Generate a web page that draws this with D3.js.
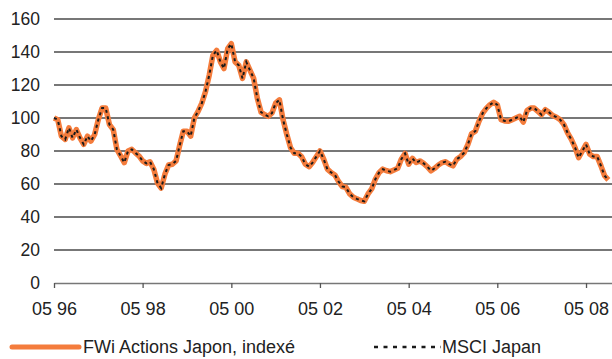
<!DOCTYPE html>
<html>
<head>
<meta charset="utf-8">
<script src="https://cdn.jsdelivr.net/npm/d3@7"></script>
<style>
  html, body { margin: 0; padding: 0; background: #fff; }
  svg { display: block; font-family: "Liberation Sans", Arial, sans-serif; }
</style>
</head>
<body>
<svg id="chart" width="612" height="359"></svg>
<script>
// Monthly index levels, May 1996 = 100
const startMonth = new Date(1996, 4, 1);
const fwiJapon = [
  100, 99, 89, 87, 94, 88, 93, 88, 84, 89, 86, 90, 99, 106, 106, 96, 93, 81, 77, 73,
  80, 81, 79, 77, 74, 72.5, 73.5, 69, 60.5, 57.5, 66, 71.5, 72, 74, 83, 92, 92, 89, 100, 104,
  109, 116, 126, 138, 141, 134, 130, 142, 145, 134, 132, 124, 134, 129, 124, 112, 103.5, 102, 101, 103,
  109, 111, 99, 90, 82, 78.6, 78.6, 76.5, 72, 70.5, 73, 76.6, 80, 75, 69, 67, 65.5, 61.5, 58.5, 58,
  54, 52, 51, 50, 49.5, 54, 57, 63, 67, 69, 68, 67.5, 68.5, 69.5, 75, 78.5, 72, 75.5, 73, 74,
  72.5, 70.5, 68, 69.5, 71.5, 73, 73.5, 72, 71, 75, 76.6, 79, 84, 90.5, 92, 98, 103, 106, 108, 109.5,
  108, 99, 98.2, 98, 99, 100, 101, 97.5, 104.5, 106, 106, 104, 102, 105, 103.5, 101.5, 100.5, 99, 96, 91,
  87, 82, 76, 80, 84, 78, 76.6, 76.6, 71, 65, 62.5
];
const msciJapan = [
  100, 99, 89, 87, 94, 88, 93, 88, 84, 89, 86, 90, 99, 106, 106, 96, 93, 81, 77, 73,
  80, 81, 79, 77, 74, 72.5, 73.5, 69, 60.5, 57.5, 66, 71.5, 72, 74, 83, 92, 92, 89, 100, 104,
  109, 116, 126, 138, 141, 134, 130, 142, 145, 134, 132, 124, 134, 129, 124, 112, 103.5, 102, 101, 103,
  109, 111, 99, 90, 82, 78.6, 78.6, 76.5, 72, 70.5, 73, 76.6, 80, 75, 69, 67, 65.5, 61.5, 58.5, 58,
  54, 52, 51, 50, 49.5, 54, 57, 63, 67, 69, 68, 67.5, 68.5, 69.5, 75, 78.5, 72, 75.5, 73, 74,
  72.5, 70.5, 68, 69.5, 71.5, 73, 73.5, 72, 71, 75, 76.6, 79, 84, 90.5, 92, 98, 103, 106, 108, 109.5,
  108, 99, 98.2, 98, 99, 100, 101, 97.5, 104.5, 106, 106, 104, 102, 105, 103.5, 101.5, 100.5, 99, 96, 91,
  87, 82, 76, 80, 84, 78, 76.6, 76.6, 71, 65, 62.5
];
const yTicks = [0, 20, 40, 60, 80, 100, 120, 140, 160];
const xTickYears = [1996, 1998, 2000, 2002, 2004, 2006, 2008];
const xTickLabels = ["05 96", "05 98", "05 00", "05 02", "05 04", "05 06", "05 08"];
const seriesNames = ["FWi Actions Japon, indexé", "MSCI Japan"];

const dates = fwiJapon.map((_, i) => d3.timeMonth.offset(startMonth, i));

const svg = d3.select("#chart");
const plot = { left: 54, right: 612, top: 19, bottom: 283 };

const x = d3.scaleTime()
  .domain([startMonth, d3.timeMonth.offset(startMonth, fwiJapon.length)])
  .range([plot.left, plot.right]);
const y = d3.scaleLinear().domain([0, 160]).range([plot.bottom, plot.top]);

// horizontal gridlines
svg.append("g")
  .selectAll("line")
  .data(yTicks.filter(d => d > 0))
  .join("line")
  .attr("x1", plot.left).attr("x2", plot.right)
  .attr("y1", d => y(d)).attr("y2", d => y(d))
  .attr("stroke", "#4a4a4a")
  .attr("stroke-width", 1.3);

// y labels
svg.append("g")
  .selectAll("text")
  .data(yTicks)
  .join("text")
  .attr("x", 40)
  .attr("y", d => y(d))
  .attr("dy", "0.36em")
  .attr("text-anchor", "end")
  .attr("font-size", 17.5)
  .attr("fill", "#222")
  .text(d => d);

// x axis
const xTickDates = xTickYears.map(yr => new Date(yr, 4, 1));
const xAxis = d3.axisBottom(x)
  .tickValues(xTickDates)
  .tickSize(5)
  .tickSizeOuter(0)
  .tickPadding(14)
  .tickFormat((d, i) => xTickLabels[i]);
const gx = svg.append("g")
  .attr("transform", `translate(0,${plot.bottom})`)
  .call(xAxis);
gx.select(".domain").attr("stroke", "#777").attr("stroke-width", 1.3);
gx.selectAll(".tick line").attr("stroke", "#555").attr("stroke-width", 1.3);
gx.selectAll(".tick text")
  .attr("font-size", 18)
  .attr("font-family", "Liberation Sans, Arial, sans-serif")
  .attr("fill", "#222");

const line = d3.line()
  .x((d, i) => x(dates[i]))
  .y(d => y(d));

// fund series (thick orange)
svg.append("path")
  .datum(fwiJapon)
  .attr("d", line)
  .attr("fill", "none")
  .attr("stroke", "#F47C3C")
  .attr("stroke-width", 5.5)
  .attr("stroke-linejoin", "round");

// benchmark series (black dashes)
svg.append("path")
  .datum(msciJapan)
  .attr("d", line)
  .attr("fill", "none")
  .attr("stroke", "#1a1a1a")
  .attr("stroke-width", 2)
  .attr("stroke-dasharray", "3,3.5");

// legend
const lg = svg.append("g").attr("transform", "translate(0,347)");
lg.append("line")
  .attr("x1", 12).attr("x2", 79).attr("y1", 0).attr("y2", 0)
  .attr("stroke", "#F47C3C").attr("stroke-width", 5)
  .attr("stroke-linecap", "round");
lg.append("text")
  .attr("x", 83).attr("y", 0).attr("dy", "0.36em")
  .attr("font-size", 18).attr("fill", "#222")
  .text(seriesNames[0]);
lg.append("line")
  .attr("x1", 374).attr("x2", 441).attr("y1", 0).attr("y2", 0)
  .attr("stroke", "#1a1a1a").attr("stroke-width", 2.5)
  .attr("stroke-dasharray", "4,5.5");
lg.append("text")
  .attr("x", 442).attr("y", 0).attr("dy", "0.36em")
  .attr("font-size", 18).attr("fill", "#222")
  .text(seriesNames[1]);
</script>
</body>
</html>
